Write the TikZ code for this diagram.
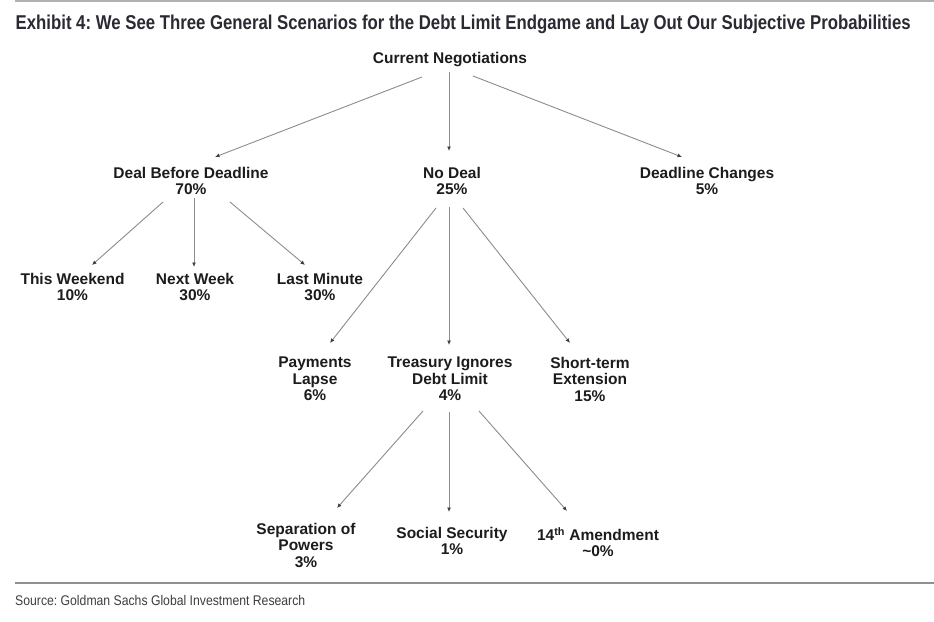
\documentclass[tikz,border=0pt]{standalone}
\usepackage{fontspec}
\setmainfont{Liberation Sans}
\usepackage{graphicx}
\usetikzlibrary{arrows.meta}
\frenchspacing
\definecolor{txt}{HTML}{1C1C1C}
\definecolor{ttl}{HTML}{2A2A33}
\definecolor{lin}{HTML}{8C8C8C}
\definecolor{rule}{HTML}{909090}
\tikzset{
  lbl/.style={anchor=north, inner sep=0pt, align=center, text=txt,
    font=\fontsize{15.5}{16.5}\selectfont\bfseries},
  arr/.style={draw=lin, line width=0.9pt,
    -{Latex[length=4.5pt,width=4pt,color=txt!85]}},
}
\begin{document}
\begin{tikzpicture}[x=1pt,y=-1pt]
\useasboundingbox[fill=white] (0,0) rectangle (934,621);
% rules
\coordinate (tl) at (15,1);
\coordinate (tr0) at (934,1);
\draw[draw=rule!70, line width=2pt] (tl) -- (tr0);
\coordinate (bl) at (15,583);
\coordinate (br) at (934,583);
\draw[draw=rule, line width=1.4pt] (bl) -- (br);
% title and source
\node[anchor=base west, inner sep=0pt, text=ttl] (title) at (15.5,29)
  {\resizebox{895pt}{\height}{\fontsize{20}{20}\selectfont\bfseries Exhibit 4: We See Three General Scenarios for the Debt Limit Endgame and Lay Out Our Subjective Probabilities}};
\node[anchor=base west, inner sep=0pt, text=txt!85] (src) at (15,605)
  {\resizebox{290pt}{\height}{\fontsize{14}{14}\selectfont Source: Goldman Sachs Global Investment Research}};
% nodes
\node[lbl] (cn) at (450,52) {Current Negotiations};
\node[lbl] (dbd) at (191,167) {Deal Before Deadline\\70\%};
\node[lbl] (nd) at (452,167) {No Deal\\25\%};
\node[lbl] (dc) at (707,167) {Deadline Changes\\5\%};
\node[lbl] (tw) at (72.5,273) {This Weekend\\10\%};
\node[lbl] (nw) at (195,273) {Next Week\\30\%};
\node[lbl] (lm) at (320,273) {Last Minute\\30\%};
\node[lbl] (pl) at (315,357) {Payments\\Lapse\\6\%};
\node[lbl] (tre) at (450,357) {Treasury Ignores\\Debt Limit\\4\%};
\node[lbl] (st) at (590,357) {Short-term\\Extension\\15\%};
\node[lbl] (sp) at (306,523) {Separation of\\Powers\\3\%};
\node[lbl] (ss) at (452,527) {Social Security\\1\%};
\node[lbl] (am) at (598,527) {14\textsuperscript{th} Amendment\\\textasciitilde0\%};
% arrows
\draw[arr] ([xshift=-28pt,yshift=-25pt]cn.north) -- ([xshift=24pt,yshift=10pt]dbd.north);
\draw[arr] ([xshift=-1pt,yshift=-20pt]cn.north) -- ([xshift=-3pt,yshift=16pt]nd.north);
\draw[arr] ([xshift=23pt,yshift=-24pt]cn.north) -- ([xshift=-25pt,yshift=10pt]dc.north);
\draw[arr] ([xshift=-28pt,yshift=-35pt]dbd.north) -- ([xshift=19.5pt,yshift=8pt]tw.north);
\draw[arr] ([xshift=3pt,yshift=-31pt]dbd.north) -- ([xshift=-1pt,yshift=6pt]nw.north);
\draw[arr] ([xshift=39pt,yshift=-35pt]dbd.north) -- ([xshift=-15pt,yshift=8pt]lm.north);
\draw[arr] ([xshift=-16pt,yshift=-41pt]nd.north) -- ([xshift=15pt,yshift=14pt]pl.north);
\draw[arr] ([xshift=-3pt,yshift=-40pt]nd.north) -- ([xshift=-1pt,yshift=12pt]tre.north);
\draw[arr] ([xshift=11pt,yshift=-41pt]nd.north) -- ([xshift=-20pt,yshift=14pt]st.north);
\draw[arr] ([xshift=-27pt,yshift=-54pt]tre.north) -- ([xshift=31pt,yshift=15pt]sp.north);
\draw[arr] ([xshift=-1pt,yshift=-55pt]tre.north) -- ([xshift=-3pt,yshift=15pt]ss.north);
\draw[arr] ([xshift=29pt,yshift=-54pt]tre.north) -- ([xshift=-31pt,yshift=16pt]am.north);
\end{tikzpicture}
\end{document}
